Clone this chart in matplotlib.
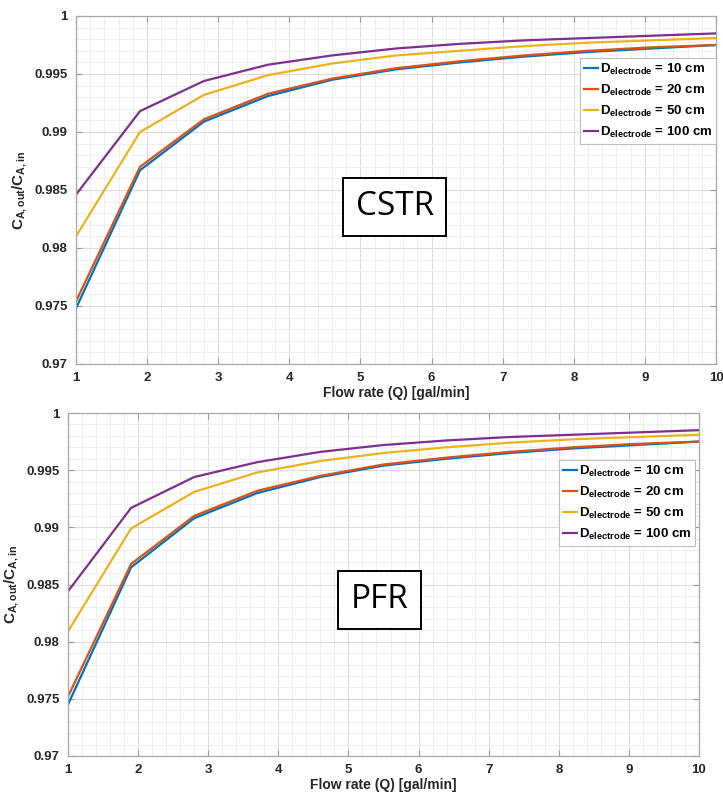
import matplotlib
matplotlib.use("Agg")
import matplotlib.pyplot as plt
from matplotlib.ticker import AutoMinorLocator, FuncFormatter, MultipleLocator

plt.rcParams['font.family'] = ['Liberation Sans', 'DejaVu Sans']
plt.rcParams['mathtext.fontset'] = 'custom'
plt.rcParams['mathtext.rm'] = 'Liberation Sans'
plt.rcParams['mathtext.it'] = 'Liberation Sans:italic'
plt.rcParams['mathtext.bf'] = 'Liberation Sans:bold'

# ---- data ----
flow_rate = [1.0, 1.9, 2.8, 3.7, 4.6, 5.5, 6.4, 7.3, 8.2, 9.1, 10.0]
series_labels = ["10 cm", "20 cm", "50 cm", "100 cm"]

cstr_d10 = [0.9748, 0.9867, 0.9909, 0.9931, 0.9945, 0.9954, 0.9960, 0.9965, 0.9969, 0.9972, 0.9975]
cstr_d20 = [0.9754, 0.9870, 0.9911, 0.9933, 0.9946, 0.9955, 0.9961, 0.9966, 0.9970, 0.9973, 0.9975]
cstr_d50 = [0.9810, 0.9900, 0.9932, 0.9949, 0.9959, 0.9966, 0.9970, 0.9974, 0.9977, 0.9979, 0.9981]
cstr_d100 = [0.9846, 0.9918, 0.9944, 0.9958, 0.9966, 0.9972, 0.9976, 0.9979, 0.9981, 0.9983, 0.9985]

pfr_d10 = [0.9745, 0.9865, 0.9908, 0.9930, 0.9944, 0.9954, 0.9960, 0.9965, 0.9969, 0.9972, 0.9975]
pfr_d20 = [0.9752, 0.9868, 0.9910, 0.9932, 0.9945, 0.9955, 0.9961, 0.9966, 0.9970, 0.9973, 0.9975]
pfr_d50 = [0.9809, 0.9899, 0.9931, 0.9948, 0.9958, 0.9965, 0.9970, 0.9974, 0.9977, 0.9979, 0.9981]
pfr_d100 = [0.9844, 0.9917, 0.9944, 0.9957, 0.9966, 0.9972, 0.9976, 0.9979, 0.9981, 0.9983, 0.9985]

colors = ["#0072BD", "#D95319", "#EDB120", "#7E2F8E"]

fig = plt.figure(figsize=(7.23, 7.93), dpi=100)
fig.patch.set_facecolor("white")

ax_top = fig.add_axes([76/723, 1-364/793, 640/723, 348/793])
ax_bot = fig.add_axes([68/723, 1-756/793, 631/723, 343/793])

def style(ax, series, name, box_xy, leg_anchor):
    for ys, c, lab in zip(series, colors, series_labels):
        ax.plot(flow_rate, ys, color=c, lw=1.6,
                label=r'$\mathbf{D_{electrode}}$' + ' = ' + lab)
    ax.set_xlim(1, 10)
    ax.set_ylim(0.97, 1.0)
    ax.xaxis.set_major_locator(MultipleLocator(1))
    ax.yaxis.set_major_locator(MultipleLocator(0.005))
    ax.xaxis.set_minor_locator(AutoMinorLocator(5))
    ax.yaxis.set_minor_locator(AutoMinorLocator(5))
    ax.yaxis.set_major_formatter(FuncFormatter(lambda v, p: "%g" % round(v, 4)))
    ax.xaxis.set_major_formatter(FuncFormatter(lambda v, p: "%g" % v))
    ax.grid(True, which='major', color='#dcdcdc', lw=0.8)
    ax.grid(True, which='minor', color='#ececec', lw=0.6)
    ax.set_axisbelow(True)
    ax.tick_params(which='both', direction='in', top=True, right=True,
                   colors='#9a9a9a', labelcolor='#262626')
    ax.tick_params(which='major', length=4, labelsize=9.5, pad=6)
    ax.tick_params(which='minor', length=0)
    for lbl in ax.get_xticklabels() + ax.get_yticklabels():
        lbl.set_fontweight('bold')
    for s in ax.spines.values():
        s.set_color('#a8a8a8')
        s.set_linewidth(0.9)
    ax.set_xlabel('Flow rate (Q) [gal/min]', fontsize=10, fontweight='bold',
                  color='#262626', labelpad=1)
    ax.set_ylabel(r'$\mathbf{C_{A,out}/C_{A,in}}$', fontsize=11,
                  color='#262626', labelpad=4)
    leg = ax.legend(loc='upper right', bbox_to_anchor=leg_anchor,
                    prop={'size': 9.5, 'weight': 'bold'},
                    handlelength=1.0, handletextpad=0.15, borderpad=0.3,
                    labelspacing=0.45, fancybox=False, framealpha=1,
                    borderaxespad=0, edgecolor='#bdbdbd')
    leg.get_frame().set_linewidth(0.8)
    ax.text(box_xy[0], box_xy[1], name, transform=ax.transAxes, ha='center',
            va='center', fontsize=24, family=['Open Sans', 'DejaVu Sans'],
            bbox=dict(boxstyle='square,pad=0.38', fc='white', ec='black', lw=1.4))

style(ax_top, [cstr_d10, cstr_d20, cstr_d50, cstr_d100], 'CSTR',
      (0.498, 0.452), (1.0, 1 - 42/348))
style(ax_bot, [pfr_d10, pfr_d20, pfr_d50, pfr_d100], 'PFR',
      (0.494, 0.455), (1 - 4/631, 1 - 47/343))

fig.savefig("out.png", dpi=100, facecolor='white')
